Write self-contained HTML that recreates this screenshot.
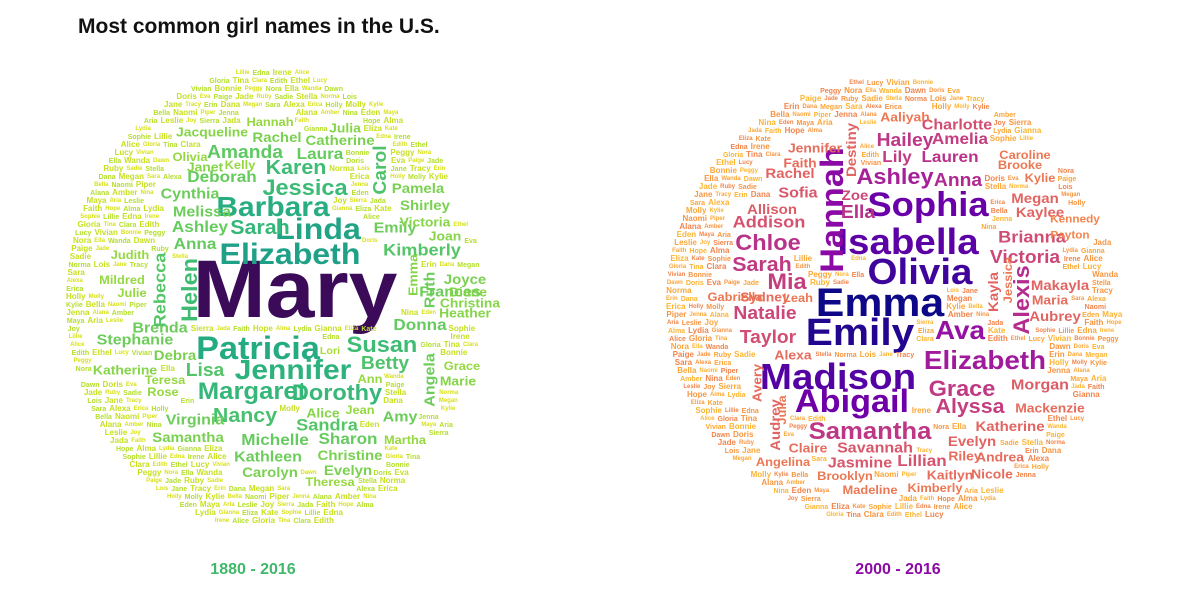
<!DOCTYPE html>
<html><head><meta charset="utf-8">
<style>
html,body{margin:0;padding:0;background:#fff;}
#root{position:relative;width:1200px;height:600px;overflow:hidden;font-family:"Liberation Sans",sans-serif;}
.w{position:absolute;white-space:nowrap;font-weight:bold;line-height:1;transform-origin:center center;}
h1{position:absolute;left:78px;top:15px;margin:0;font-size:21px;font-weight:bold;color:#111;}
.lab{position:absolute;font-size:16px;font-weight:bold;transform:translateX(-50%);}
</style></head>
<body>
<div id="root">
<h1>Most common girl names in the U.S.</h1>
<div class="lab" style="left:253px;top:561px;color:#3fb86a">1880 - 2016</div>
<div class="lab" style="left:898px;top:561px;color:#8b0aa5">2000 - 2016</div>
</div>
<script>
// left cloud: [name, fontSize, cx, cy, rotated, color]
const leftWords = [
["Mary",82,295,290,0,"#3b0b59"],["Elizabeth",30,290,255,0,"#1fa187"],["Barbara",28,273,207,0,"#27ad81"],
["Linda",30,318,230,0,"#21a386"],["Sarah",20,260,228,0,"#35b779"],["Jessica",22,305,188,0,"#3bbb75"],
["Karen",20,296,168,0,"#3fbc73"],["Amanda",18,245,152,0,"#5ec962"],["Deborah",16,222,178,0,"#65cb5e"],
["Cynthia",15,190,194,0,"#6ccd5a"],["Melissa",15,202,212,0,"#6ccd5a"],["Ashley",16,200,228,0,"#65cb5e"],
["Anna",16,195,245,0,"#65cb5e"],["Patricia",32,258,348,0,"#25ab82"],["Jennifer",28,293,370,0,"#2db27d"],
["Margaret",24,252,392,0,"#35b779"],["Dorothy",22,337,393,0,"#37b878"],["Nancy",20,245,416,0,"#48c16e"],
["Susan",22,382,345,0,"#3dbc74"],["Betty",18,385,363,0,"#4ec36b"],["Lisa",18,205,370,0,"#52c569"],
["Sandra",17,327,425,0,"#55c667"],["Michelle",16,275,441,0,"#65cb5e"],["Kathleen",15,268,457,0,"#6ccd5a"],
["Carolyn",14,270,472,0,"#7ad151"],["Sharon",16,348,440,0,"#65cb5e"],["Christine",14,350,455,0,"#7ad151"],
["Evelyn",14,348,470,0,"#7ad151"],["Alice",13,323,413,0,"#86d549"],["Amy",15,400,417,0,"#6ccd5a"],
["Virginia",15,195,420,0,"#6ccd5a"],["Samantha",14,188,437,0,"#7ad151"],["Stephanie",15,135,340,0,"#6ccd5a"],
["Brenda",15,160,328,0,"#6ccd5a"],["Debra",14,175,355,0,"#7ad151"],["Helen",22,190,290,1,"#3fbc73"],
["Rebecca",17,160,290,1,"#55c667"],["Carol",18,380,170,1,"#4ec36b"],["Emily",15,395,228,0,"#6ccd5a"],
["Kimberly",17,422,250,0,"#55c667"],["Frances",15,450,292,0,"#6ccd5a"],["Donna",16,420,326,0,"#65cb5e"],
["Ruth",15,430,290,1,"#6ccd5a"],["Emma",13,413,275,1,"#86d549"],["Angela",15,430,380,1,"#6ccd5a"],
["Heather",13,465,313,0,"#86d549"],["Christina",13,470,303,0,"#86d549"],["Joyce",14,465,279,0,"#7ad151"],
["Diane",13,468,292,0,"#86d549"],["Shirley",14,425,205,0,"#7ad151"],["Pamela",14,418,188,0,"#7ad151"],
["Laura",16,320,155,0,"#65cb5e"],["Catherine",14,340,140,0,"#7ad151"],["Julia",13,345,128,0,"#86d549"],
["Rachel",14,277,137,0,"#7ad151"],["Hannah",12,270,122,0,"#95d840"],["Janet",13,205,167,0,"#86d549"],
["Jacqueline",13,212,132,0,"#86d549"],["Judith",12,130,255,0,"#95d840"],["Julie",12,132,293,0,"#95d840"],
["Mildred",12,122,280,0,"#95d840"],["Katherine",13,125,370,0,"#86d549"],["Marie",13,458,381,0,"#86d549"],
["Grace",12,462,366,0,"#95d840"],["Teresa",12,165,380,0,"#95d840"],["Rose",12,163,392,0,"#95d840"],
["Martha",12,405,440,0,"#95d840"],["Ann",12,370,379,0,"#95d840"],["Jean",12,360,410,0,"#95d840"],
["Theresa",12,330,482,0,"#95d840"],["Lori",10,330,352,0,"#a8db34"],["Kelly",12,240,165,0,"#95d840"],
["Victoria",13,425,222,0,"#86d549"],["Joan",13,445,236,0,"#86d549"],["Olivia",12,190,157,0,"#95d840"]
];
// right cloud
const rightWords = [
["Emma",40,880,303,0,"#0d0887"],["Emily",38,860,333,0,"#220690"],["Olivia",36,920,272,0,"#3e049c"],
["Isabella",36,908,242,0,"#5b01a5"],["Sophia",34,928,205,0,"#6a00a8"],["Madison",36,838,377,0,"#5402a3"],
["Abigail",32,852,401,0,"#6f00a8"],["Hannah",32,832,210,1,"#8b0aa5"],["Ava",26,960,330,0,"#9511a1"],
["Elizabeth",26,985,360,0,"#a01a9c"],["Alexis",22,1022,300,1,"#b32c8e"],["Samantha",24,870,432,0,"#bd3786"],
["Grace",22,962,389,0,"#c03a83"],["Alyssa",20,970,407,0,"#c43e7f"],["Ashley",22,895,177,0,"#a62098"],
["Anna",18,958,180,0,"#b02991"],["Lauren",16,950,158,0,"#b83289"],["Lily",16,897,158,0,"#c13b82"],
["Hailey",18,905,140,0,"#bd3786"],["Amelia",16,960,140,0,"#c43e7f"],["Charlotte",15,957,125,0,"#d24e71"],
["Ella",18,858,212,0,"#b83289"],["Zoe",14,855,195,0,"#cc4778"],["Chloe",22,768,243,0,"#b83289"],
["Sarah",20,762,265,0,"#c03a83"],["Mia",22,787,282,0,"#c43e7f"],["Natalie",18,765,313,0,"#cc4778"],
["Taylor",18,768,337,0,"#d04d73"],["Addison",17,769,222,0,"#d5536f"],["Allison",14,772,209,0,"#dc5d65"],
["Sofia",15,798,193,0,"#d8576b"],["Brianna",17,1032,237,0,"#d04d73"],["Victoria",18,1025,257,0,"#cc4778"],
["Kayla",14,993,292,1,"#e16462"],["Aubrey",14,1055,316,0,"#e16462"],["Makayla",14,1060,285,0,"#e16462"],
["Maria",13,1050,300,0,"#e66c5c"],["Morgan",15,1040,385,0,"#dc5d65"],["Mackenzie",13,1050,408,0,"#e66c5c"],
["Katherine",14,1010,426,0,"#e16462"],["Evelyn",14,972,441,0,"#e16462"],["Riley",13,965,456,0,"#e66c5c"],
["Andrea",13,1000,457,0,"#e66c5c"],["Nicole",13,992,474,0,"#e66c5c"],["Kaitlyn",13,950,475,0,"#e66c5c"],
["Lillian",16,922,462,0,"#d5536f"],["Jasmine",15,860,463,0,"#d8576b"],["Savannah",15,875,448,0,"#d8576b"],
["Claire",13,808,448,0,"#e66c5c"],["Angelina",12,783,462,0,"#ec7853"],["Brooklyn",12,845,476,0,"#ec7853"],
["Madeline",12,870,490,0,"#ec7853"],["Kimberly",12,935,488,0,"#ec7853"],["Megan",14,1035,198,0,"#e16462"],
["Kaylee",14,1040,212,0,"#e16462"],["Kylie",12,1040,178,0,"#ec7853"],["Destiny",14,851,150,1,"#e16462"],
["Jennifer",13,815,148,0,"#e66c5c"],["Faith",13,800,163,0,"#e66c5c"],["Rachel",14,790,173,0,"#e16462"],
["Alexa",13,793,355,0,"#e66c5c"],["Avery",13,757,383,1,"#e66c5c"],["Julia",12,782,410,1,"#ec7853"],
["Audrey",14,775,425,1,"#e16462"],["Aaliyah",13,905,117,0,"#ec7853"],
["Sydney",13,765,297,0,"#e66c5c"],["Gabriella",12,735,297,0,"#ec7853"],["Leah",12,798,298,0,"#ec7853"],
["Jessica",12,1008,280,1,"#ec7853"],["Payton",11,1070,236,0,"#f2844b"],["Kennedy",11,1075,220,0,"#f2844b"],
["Caroline",12,1025,155,0,"#ec7853"],["Brooke",12,1020,165,0,"#ec7853"]
];
const fillerNames = ["Lillie","Edna","Irene","Alice","Gloria","Tina","Clara","Edith","Ethel","Lucy","Vivian","Bonnie","Peggy","Nora","Ella","Wanda","Dawn","Doris","Eva","Paige","Jade","Ruby","Sadie","Stella","Norma","Lois","Jane","Tracy","Erin","Dana","Megan","Sara","Alexa","Erica","Holly","Molly","Kylie","Bella","Naomi","Piper","Jenna","Alana","Amber","Nina","Eden","Maya","Aria","Leslie","Joy","Sierra","Jada","Faith","Hope","Alma","Lydia","Gianna","Eliza","Kate","Sophie"];

const root = document.getElementById('root');
const placed = [];
function addWord(w, side){
  const el = document.createElement('span');
  el.className = 'w';
  el.textContent = w[0];
  
  
  el.style.fontSize = w[1] + 'px';
  el.style.color = w[5];
  el.style.left = w[2] + 'px';
  el.style.top = w[3] + 'px';
  el.style.transform = 'translate(-50%,-50%)' + (w[4] ? ' rotate(-90deg)' : '') + ' scaleX(1.07)';
  root.appendChild(el);
  const r = el.getBoundingClientRect();
  const p = w[1] > 20 ? -w[1]*0.12 : 0;
  placed.push({l:r.left,t:r.top-p,r:r.right,b:r.bottom+p});
}
leftWords.forEach(w => addWord(w, 'left'));
rightWords.forEach(w => addWord(w, 'right'));

function overlaps(a){
  for(const p of placed){
    if(a.l < p.r+1 && a.r > p.l-1 && a.t < p.b && a.b > p.t) return true;
  }
  return false;
}
const clouds = [
  {cx:277, cy:300, rx:214, ry:232, colors:["#d8e219","#b5de2b","#c8e020"], side:'left'},
  {cx:895, cy:302, rx:232, ry:224, colors:["#f89540","#fca636","#fdb42f","#f2844b"], side:'right'}
];
let ni = 0;
clouds.forEach(c => {
  for(let y = c.cy - c.ry + 5; y < c.cy + c.ry - 3; y += 8){
    const dy = (y - c.cy)/c.ry;
    const half = c.rx*Math.sqrt(Math.max(0,1-dy*dy));
    let x = c.cx - half + 3;
    const end = c.cx + half - 3;
    let k = 0;
    while(x < end){
      const name = fillerNames[ni % fillerNames.length];
      const fs = 6 + ((ni*7) % 3);
      const el = document.createElement('span');
      el.className = 'w';
      el.textContent = name;
      
      
      el.style.fontSize = fs + 'px';
      el.style.color = c.colors[ni % c.colors.length];
      el.style.left = x + 'px';
      el.style.top = (y - fs/2) + 'px';
      root.appendChild(el);
      const r = el.getBoundingClientRect();
      if(r.right > end || overlaps({l:r.left,t:r.top,r:r.right,b:r.bottom})){
        root.removeChild(el);
        x += 3;
      } else {
        x = r.right + 3;
        ni++;
      }
      if(++k > 500) break;
    }
  }
});
</script>
</body></html>
